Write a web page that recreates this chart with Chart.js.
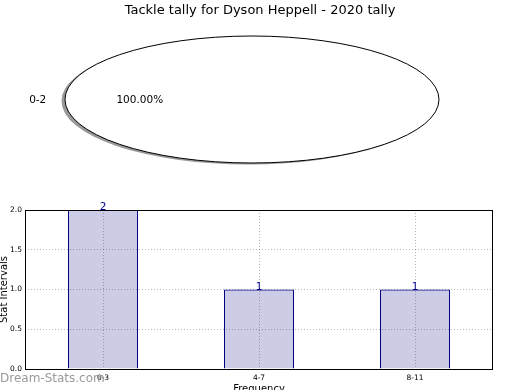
<!DOCTYPE html>
<html><head><meta charset="utf-8">
<script src="https://cdn.jsdelivr.net/npm/chart.js@4/dist/chart.umd.min.js"></script>
<style>
html,body{margin:0;padding:0;background:#fff;overflow:hidden;width:520px;height:390px}
#wrap{position:relative;width:520px;height:390px;overflow:hidden;font-family:"DejaVu Sans",sans-serif}
#title{position:absolute;left:0;top:0;width:520px;height:20px;line-height:20px;text-align:center;font-size:13px;color:#000}
#pieBox{position:absolute;left:0;top:0;width:520px;height:195px}
#barBox{position:absolute;left:0;top:195px;width:520px;height:205px}
#wm{position:absolute;left:0;top:371px;font-size:12px;color:#9a9a9a;line-height:14px;white-space:nowrap}
</style></head>
<body>
<div id="wrap">
  <div id="pieBox"><canvas id="pie" width="520" height="195"></canvas></div>
  <div id="barBox"><canvas id="bar" width="520" height="205"></canvas></div>
  <div id="title">Tackle tally for Dyson Heppell - 2020 tally</div>
  <div id="wm">Dream-Stats.com</div>
</div>
<script>
// ---- data ----
const pieLabels = ['0-2'];
const pieValues = [1];
const barCategories = ['0-3', '4-7', '8-11'];
const barValues = [2, 1, 1];
const yTickValues = [0, 0.5, 1, 1.5, 2];

const FONT = '"DejaVu Sans", sans-serif';

// ---- pie (stretched into an ellipse) ----
const ellipsePie = {
  id: 'ellipsePie',
  beforeDatasetsDraw(chart, args, opts) {
    const arc = chart.getDatasetMeta(0).data[0];
    const {x, y, outerRadius: r} = arc;
    const ctx = chart.ctx;
    ctx.save();
    ctx.beginPath();
    ctx.ellipse(x + opts.shadowDx, y + opts.shadowDy, r * opts.sx, r, 0, 0, Math.PI * 2);
    ctx.fillStyle = opts.shadowColor;
    ctx.fill();
    ctx.translate(x, y);
    ctx.scale(opts.sx, 1);
    ctx.translate(-x, -y);
  },
  afterDatasetsDraw(chart, args, opts) {
    const ctx = chart.ctx;
    ctx.restore();
    const meta = chart.getDatasetMeta(0);
    const data = chart.data.datasets[0].data;
    const total = data.reduce((a, b) => a + b, 0);
    ctx.save();
    meta.data.forEach((a, i) => {
      const {x, y, outerRadius: r} = a;
      ctx.beginPath();
      ctx.ellipse(x, y, r * opts.sx, r, 0, 0, Math.PI * 2);
      ctx.strokeStyle = '#000';
      ctx.lineWidth = 1;
      ctx.stroke();
      const mid = (a.startAngle + a.endAngle) / 2;
      const c = Math.cos(mid), s = Math.sin(mid);
      ctx.font = '10.5px ' + FONT;
      ctx.fillStyle = '#000';
      ctx.textBaseline = 'middle';
      ctx.textAlign = c < -0.01 ? 'right' : (c > 0.01 ? 'left' : 'center');
      ctx.fillText(chart.data.labels[i], x + c * 1.1 * r * opts.sx, y + 0.5 + s * 1.1 * r);
      ctx.textAlign = 'center';
      ctx.fillText((data[i] / total * 100).toFixed(2) + '%', x + c * 0.6 * r * opts.sx, y + 0.5 + s * 0.6 * r);
    });
    ctx.restore();
  }
};

new Chart(document.getElementById('pie'), {
  type: 'pie',
  data: {labels: pieLabels, datasets: [{data: pieValues, backgroundColor: '#ffffff', borderWidth: 0}]},
  options: {
    responsive: false, animation: false, devicePixelRatio: 1,
    rotation: 90,
    layout: {padding: {top: 36, bottom: 32, left: 188, right: 204}},
    plugins: {
      legend: {display: false}, tooltip: {enabled: false},
      ellipsePie: {sx: 187 / 63.5, shadowDx: -3.5, shadowDy: 1.5, shadowColor: '#999999'}
    }
  },
  plugins: [ellipsePie]
});

// ---- bar ----
const valueLabels = {
  id: 'valueLabels',
  afterDatasetsDraw(chart) {
    const ctx = chart.ctx;
    const meta = chart.getDatasetMeta(0);
    ctx.save();
    ctx.font = '10.5px ' + FONT;
    ctx.fillStyle = '#00008b';
    ctx.textAlign = 'center';
    ctx.textBaseline = 'alphabetic';
    meta.data.forEach((b, i) => {
      ctx.fillText(String(chart.data.datasets[0].data[i]), b.x, b.y);
    });
    ctx.restore();
  }
};
const frame = {
  id: 'frame',
  afterDraw(chart) {
    const {left, top, right, bottom} = chart.chartArea;
    const ctx = chart.ctx;
    ctx.save();
    ctx.strokeStyle = '#000';
    ctx.lineWidth = 1;
    ctx.strokeRect(Math.round(left) + 0.5, Math.round(top) + 0.5, Math.round(right - left) - 1, Math.round(bottom - top));
    ctx.restore();
  }
};

const gridColor = 'rgba(0,0,0,0.28)';
new Chart(document.getElementById('bar'), {
  type: 'bar',
  data: {
    labels: barCategories,
    datasets: [{
      data: barValues,
      backgroundColor: 'rgba(0,0,128,0.2)',
      borderColor: '#000080',
      borderWidth: 1,
      barPercentage: 70 / 156,
      categoryPercentage: 1
    }]
  },
  options: {
    responsive: false, animation: false, devicePixelRatio: 1,
    layout: {padding: {top: 15, right: 27, left: 0, bottom: 0}},
    plugins: {legend: {display: false}, tooltip: {enabled: false}},
    scales: {
      x: {
        offset: true,
        grid: {offset: false, color: gridColor, drawTicks: false},
        border: {display: false, dash: [1, 2]},
        ticks: {font: {family: FONT, size: 7.5}, color: '#000', padding: 5, maxRotation: 0},
        title: {display: true, text: 'Frequency', font: {family: FONT, size: 10}, color: '#000', padding: {top: 0, bottom: 5}},
        afterFit(scale) { scale.height = 31; }
      },
      y: {
        min: 0, max: 2,
        afterBuildTicks(scale) { scale.ticks = yTickValues.map(v => ({value: v})); },
        grid: {color: gridColor, drawTicks: false},
        border: {display: false, dash: [1, 2]},
        ticks: {font: {family: FONT, size: 7.5}, color: '#000', padding: 3, callback: v => Number(v).toFixed(1)},
        title: {display: true, text: 'Stat Intervals', font: {family: FONT, size: 10}, color: '#000', padding: {top: -2, bottom: 0}},
        afterFit(scale) { scale.width = 25; }
      }
    }
  },
  plugins: [valueLabels, frame]
});
</script>
</body></html>
